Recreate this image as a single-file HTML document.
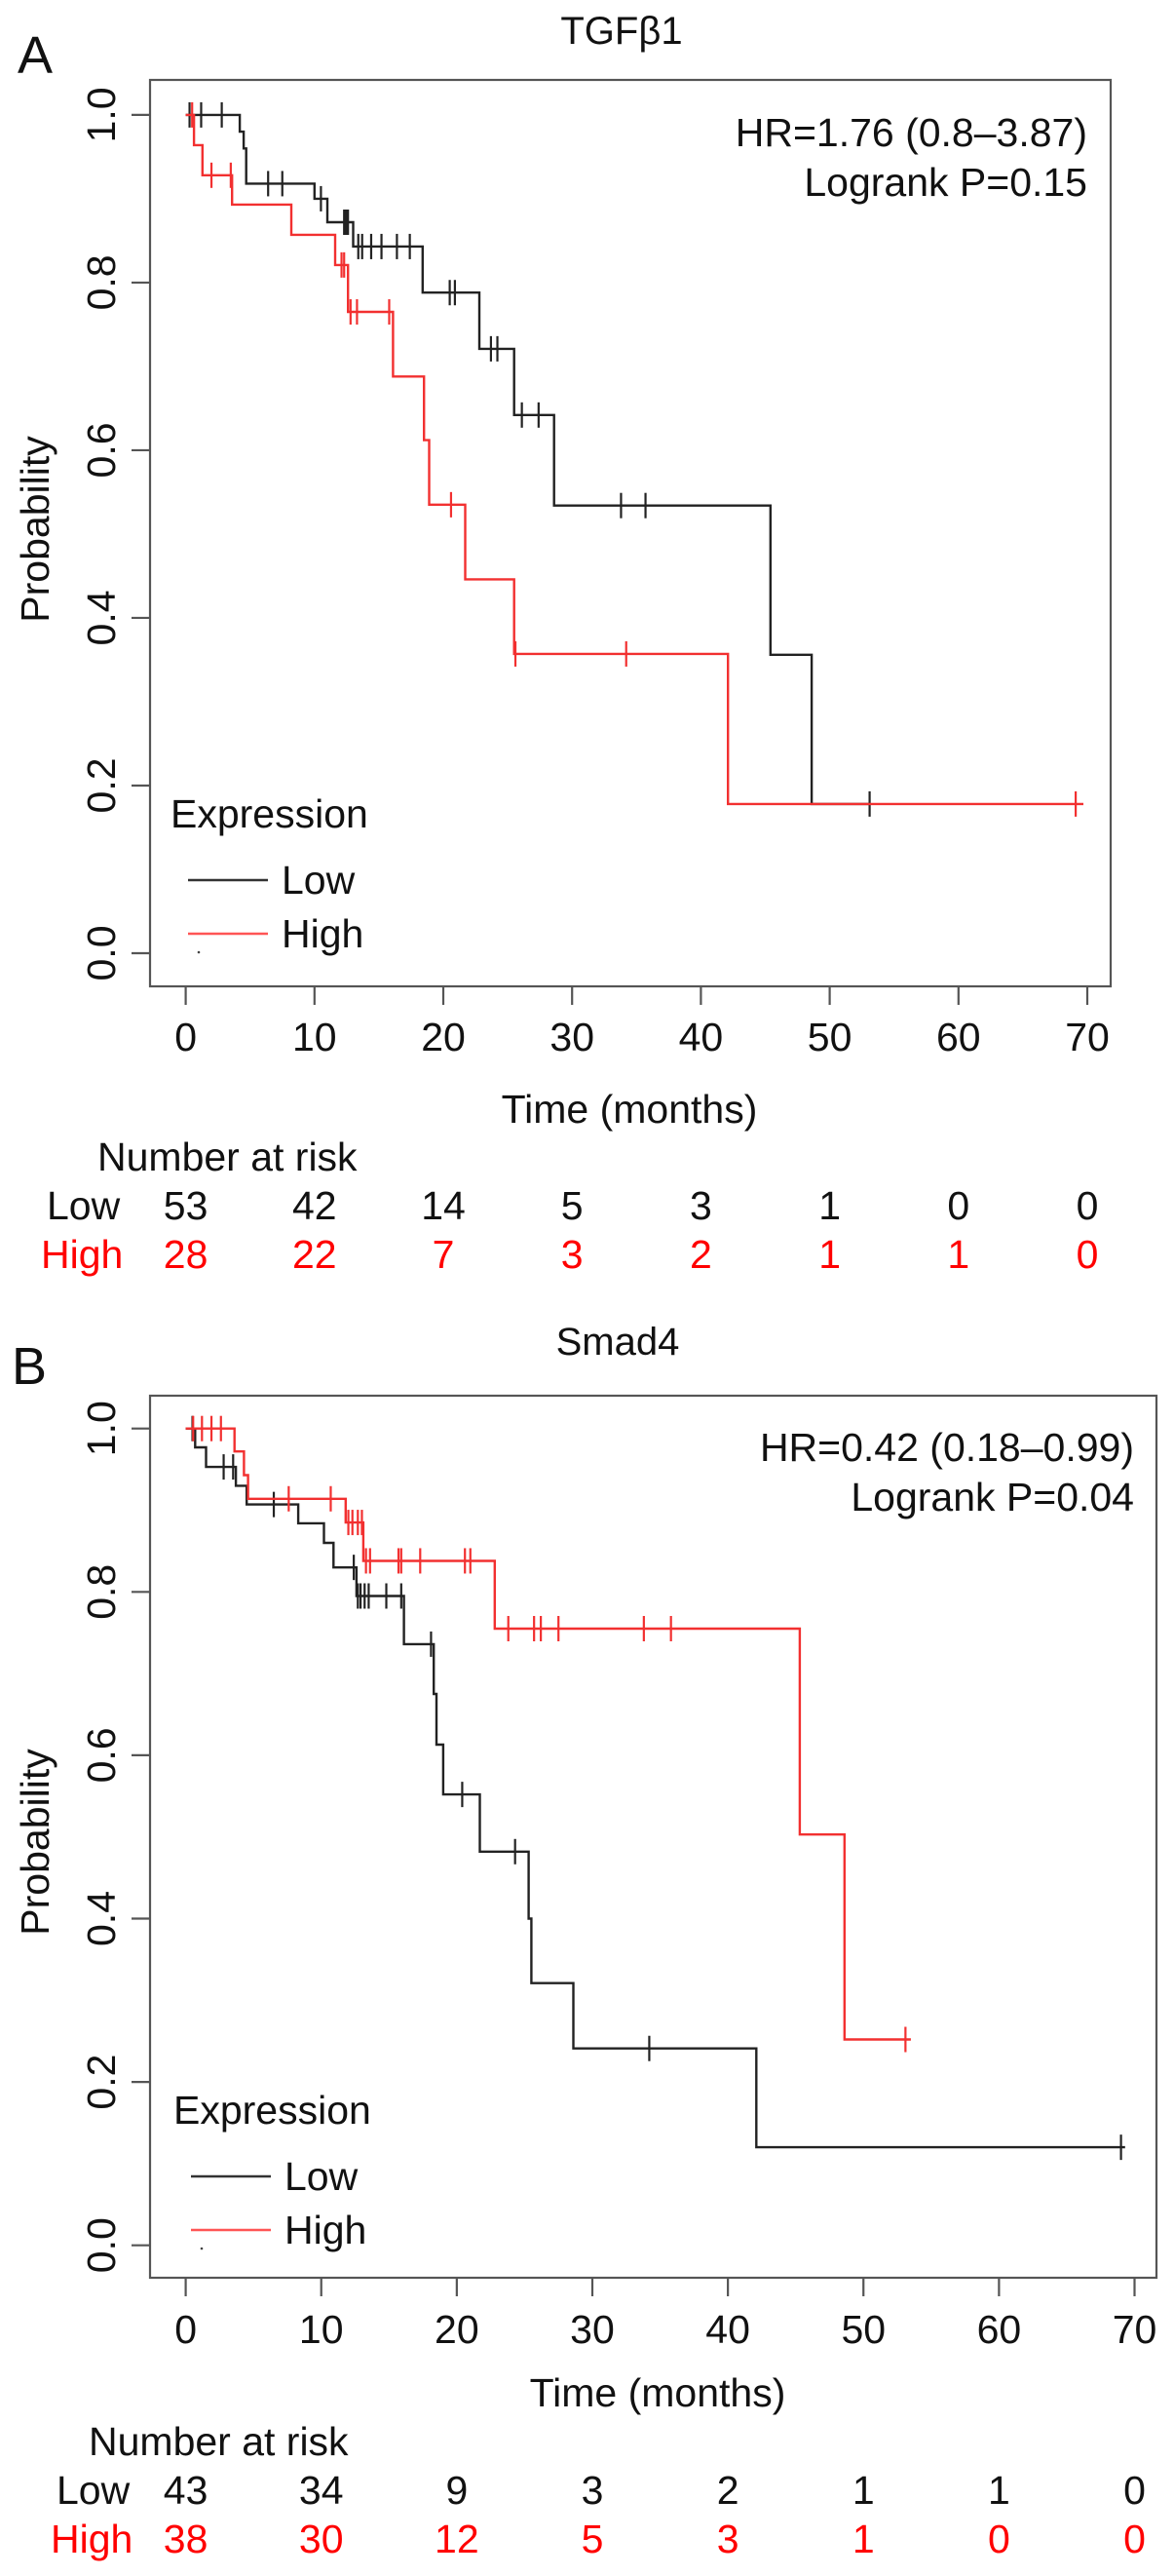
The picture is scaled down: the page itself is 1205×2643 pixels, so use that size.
<!DOCTYPE html>
<html><head><meta charset="utf-8">
<style>
html,body{margin:0;padding:0;background:#fff;}
svg{display:block;font-family:"Liberation Sans",Arial,sans-serif;}
</style></head>
<body>
<svg id="chart" width="1205" height="2643" viewBox="0 0 1205 2643" xmlns="http://www.w3.org/2000/svg"></svg>
<script>
// ---- Panel A (TGFβ1) data ----
const aLowTimes = [4.2,4.5,4.7,10.0,11.0,13.0,18.4,22.8,25.5,28.6,45.4,48.6];
const aLowSurv  = [0.98,0.96,0.918,0.90,0.872,0.843,0.788,0.721,0.642,0.534,0.356,0.178];
const aLowEnd = 53.1;
const aLowCens  = [0.3,1.2,2.8,6.4,7.5,10.5,12.3,12.4,12.5,12.6,13.4,13.7,14.4,15.2,16.4,17.4,20.5,20.9,23.7,24.2,26.1,27.4,33.8,35.7,53.1];
const aHighTimes = [0.64,1.3,3.6,8.2,11.6,12.6,16.1,18.5,18.9,21.7,25.5,42.1];
const aHighSurv  = [0.964,0.928,0.893,0.857,0.821,0.765,0.688,0.612,0.535,0.446,0.357,0.178];
const aHighEnd = 69.7;
const aHighCens  = [0.5,2.0,3.5,12.1,12.3,12.8,13.3,15.8,20.6,25.6,34.2,69.1];
const aRiskLow  = [53,42,14,5,3,1,0,0];
const aRiskHigh = [28,22,7,3,2,1,1,0];
// ---- Panel B (Smad4) data ----
const bLowTimes = [0.7,1.5,3.7,4.5,8.3,10.2,10.9,12.6,16.1,18.3,18.5,19.0,21.7,25.3,25.5,28.6,42.1];
const bLowSurv  = [0.977,0.953,0.93,0.907,0.884,0.86,0.83,0.795,0.736,0.675,0.613,0.552,0.482,0.40,0.321,0.241,0.12];
const bLowEnd = 69.3;
const bLowCens  = [0.5,2.8,3.5,6.5,12.4,12.7,12.9,13.2,13.5,14.8,15.9,18.1,20.4,24.3,34.2,69.0];
const bHighTimes = [3.6,4.3,4.6,11.8,13.1,22.8,45.3,48.6];
const bHighSurv  = [0.972,0.943,0.914,0.885,0.838,0.755,0.503,0.252];
const bHighEnd = 53.5;
const bHighCens  = [0.55,1.2,1.9,2.6,7.6,10.7,12.0,12.3,12.7,13.0,13.3,13.6,15.7,15.9,17.3,20.6,21.0,23.8,25.7,26.2,27.5,33.8,35.8,53.1];
const bRiskLow  = [43,34,9,3,2,1,1,0];
const bRiskHigh = [38,30,12,5,3,1,0,0];
// ---- shared ticks ----
const xTicks = [0,10,20,30,40,50,60,70];
const yTicks = [0.0,0.2,0.4,0.6,0.8,1.0];
const yTickLabels = ["0.0","0.2","0.4","0.6","0.8","1.0"];

const NS = "http://www.w3.org/2000/svg";
const svg = document.getElementById('chart');
function mk(tag, attrs, parent){
  const e = document.createElementNS(NS, tag);
  for (const k in attrs) e.setAttribute(k, attrs[k]);
  (parent||svg).appendChild(e);
  return e;
}
function txt(parent, x, y, s, size, fill, anchor, rot){
  const t = mk('text', {x:x, y:y, 'font-size':size, fill:fill||'#111', 'text-anchor':anchor||'middle', 'dominant-baseline':'central'}, parent);
  if (rot) t.setAttribute('transform', 'rotate(-90 '+x+' '+y+')');
  t.textContent = s;
  return t;
}
function survAt(times, surv, t){
  let s = 1;
  for (let i=0;i<times.length;i++){ if (times[i] <= t) s = surv[i]; }
  return s;
}

function panel(cfg){
  const g = mk('g', {});
  
  
  const X = m => cfg.x0 + (cfg.x70 - cfg.x0) * m / 70;
  const Y = p => cfg.y0 + (cfg.y1 - cfg.y0) * p;

  const letter = txt(g, cfg.letterX, cfg.letterY, cfg.letter, 54, '#111', 'middle');
  
  
  const title = txt(g, cfg.titleX, cfg.titleY, cfg.title, 40, '#111', 'middle');
  
  

  const frame = mk('rect', {x:cfg.left, y:cfg.top, width:cfg.right-cfg.left, height:cfg.bottom-cfg.top, fill:'none', stroke:'#555', 'stroke-width':2.2}, g);
  
  

  // x axis
  const xa = mk('g', {}, g);
  
  
  xTicks.forEach(v => {
    mk('line', {x1:X(v), x2:X(v), y1:cfg.bottom, y2:cfg.bottom+19, stroke:'#555', 'stroke-width':2.2}, xa);
    const t = txt(xa, X(v), cfg.xLabY, String(v), 41, '#111', 'middle');
    
    
  });
  const xt = txt(g, cfg.xTitleX, cfg.xTitleY, 'Time (months)', 41, '#111', 'middle');
  
  

  // y axis
  const ya = mk('g', {}, g);
  
  
  yTicks.forEach((v,i) => {
    mk('line', {x1:cfg.left-19, x2:cfg.left, y1:Y(v), y2:Y(v), stroke:'#555', 'stroke-width':2.2}, ya);
    const t = txt(ya, 104, Y(v), yTickLabels[i], 41, '#111', 'middle', true);
    
    
  });
  const yt = txt(g, 36, cfg.yTitleY, 'Probability', 41, '#111', 'middle', true);
  
  

  // curves
  function curve(times, surv, end, cens, color, nm){
    let d = 'M'+X(0)+','+Y(1);
    let s = 1;
    for (let i=0;i<times.length;i++){
      d += ' H'+X(times[i]).toFixed(1)+' V'+Y(surv[i]).toFixed(1);
      s = surv[i];
    }
    d += ' H'+X(end).toFixed(1);
    const p = mk('path', {d:d, fill:'none', stroke:color, 'stroke-width':2.4}, g);
    
    
    cens.forEach(c => {
      const yy = Y(survAt(times, surv, c));
      const l = mk('line', {x1:X(c), x2:X(c), y1:yy-13, y2:yy+13, stroke:color, 'stroke-width':2.2}, g);
      
      
    });
  }
  curve(cfg.lowT, cfg.lowS, cfg.lowEnd, cfg.lowC, '#222', 'low');
  curve(cfg.highT, cfg.highS, cfg.highEnd, cfg.highC, '#f23030', 'high');

  // stats
  const hr = mk('text', {x:cfg.statX, y:cfg.hrY, 'font-size':41, fill:'#111', 'text-anchor':'end'}, g);
  hr.textContent = cfg.hr;
  
  
  const lr = mk('text', {x:cfg.statX, y:cfg.hrY+51, 'font-size':41, fill:'#111', 'text-anchor':'end'}, g);
  lr.textContent = cfg.logrank;
  
  

  // legend
  const lg = mk('g', {}, g);
  
  
  txt(lg, cfg.legX, cfg.legY, 'Expression', 41, '#111', 'start');
  const e1 = mk('line', {x1:cfg.legX+18, x2:cfg.legX+100, y1:cfg.legY+68, y2:cfg.legY+68, stroke:'#333', 'stroke-width':2.4}, lg);
  
  
  txt(lg, cfg.legX+114, cfg.legY+68, 'Low', 41, '#111', 'start');
  const e2 = mk('line', {x1:cfg.legX+18, x2:cfg.legX+100, y1:cfg.legY+123, y2:cfg.legY+123, stroke:'#f55', 'stroke-width':2.4}, lg);
  
  
  txt(lg, cfg.legX+114, cfg.legY+123, 'High', 41, '#111', 'start');
  mk('circle', {cx:cfg.legX+29, cy:cfg.legY+142, r:1.3, fill:'#444'}, lg);

  // risk table
  const rt = mk('g', {}, g);
  
  
  txt(rt, cfg.riskTitleX, cfg.riskTitleY, 'Number at risk', 41, '#111', 'start');
  txt(rt, cfg.lowLabX, cfg.riskTitleY+50, 'Low', 41, '#111', 'start');
  txt(rt, cfg.highLabX, cfg.riskTitleY+100, 'High', 41, '#f00', 'start');
  xTicks.forEach((v,i) => {
    const a = txt(rt, X(v), cfg.riskTitleY+50, String(cfg.riskLow[i]), 41, '#111', 'middle');
    
    
    const b = txt(rt, X(v), cfg.riskTitleY+100, String(cfg.riskHigh[i]), 41, '#f00', 'middle');
    
    
  });
}

panel({name:'panel-a-tgfb1', letter:'A', letterX:36, letterY:57, title:'TGFβ1', titleX:638, titleY:32,
  left:154, right:1140, top:82, bottom:1012, x0:190.6, x70:1116, y0:978, y1:117.9,
  xLabY:1064, xTitleX:646, xTitleY:1138, yTitleY:543,
  lowT:aLowTimes, lowS:aLowSurv, lowEnd:aLowEnd, lowC:aLowCens,
  highT:aHighTimes, highS:aHighSurv, highEnd:aHighEnd, highC:aHighCens,
  statX:1116, hrY:150, hr:'HR=1.76 (0.8–3.87)', logrank:'Logrank P=0.15',
  legX:175, legY:835,
  riskTitleX:100, riskTitleY:1187, lowLabX:48, highLabX:42, riskLow:aRiskLow, riskHigh:aRiskHigh});

panel({name:'panel-b-smad4', letter:'B', letterX:30, letterY:1402, title:'Smad4', titleX:634, titleY:1377,
  left:154, right:1187, top:1432, bottom:2337, x0:190.6, x70:1164.5, y0:2303.7, y1:1465.7,
  xLabY:2390, xTitleX:675, xTitleY:2455, yTitleY:1890,
  lowT:bLowTimes, lowS:bLowSurv, lowEnd:bLowEnd, lowC:bLowCens,
  highT:bHighTimes, highS:bHighSurv, highEnd:bHighEnd, highC:bHighCens,
  statX:1164, hrY:1499, hr:'HR=0.42 (0.18–0.99)', logrank:'Logrank P=0.04',
  legX:178, legY:2165,
  riskTitleX:91, riskTitleY:2505, lowLabX:58, highLabX:52, riskLow:bRiskLow, riskHigh:bRiskHigh});
</script>
</body></html>
